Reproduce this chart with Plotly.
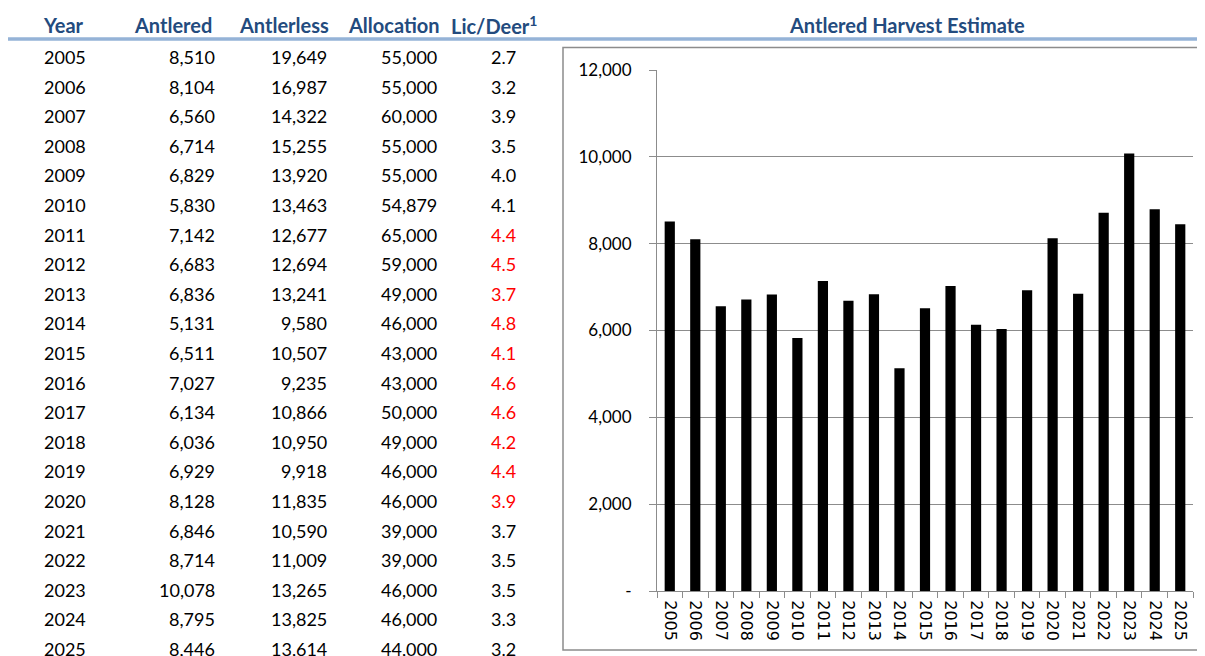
import plotly.graph_objects as go

years = [2005, 2006, 2007, 2008, 2009, 2010, 2011, 2012, 2013, 2014, 2015,
         2016, 2017, 2018, 2019, 2020, 2021, 2022, 2023, 2024, 2025]
antlered = [8510, 8104, 6560, 6714, 6829, 5830, 7142, 6683, 6836, 5131, 6511,
            7027, 6134, 6036, 6929, 8128, 6846, 8714, 10078, 8795, 8446]
antlerless = [19649, 16987, 14322, 15255, 13920, 13463, 12677, 12694, 13241, 9580, 10507,
              9235, 10866, 10950, 9918, 11835, 10590, 11009, 13265, 13825, 13614]
allocation = [55000, 55000, 60000, 55000, 55000, 54879, 65000, 59000, 49000, 46000, 43000,
              43000, 50000, 49000, 46000, 46000, 39000, 39000, 46000, 46000, 44000]
lic_deer = [2.7, 3.2, 3.9, 3.5, 4.0, 4.1, 4.4, 4.5, 3.7, 4.8, 4.1,
            4.6, 4.6, 4.2, 4.4, 3.9, 3.7, 3.5, 3.5, 3.3, 3.2]
headers = ["Year", "Antlered", "Antlerless", "Allocation", "Lic/Deer<sup>1</sup>"]
y_tickvals = [0, 2000, 4000, 6000, 8000, 10000, 12000]
y_ticktext = ["-", "2,000", "4,000", "6,000", "8,000", "10,000", "12,000"]
chart_title = "Antlered Harvest Estimate"

# page body has an 8px margin; lay the figure out in window pixels minus that offset
OFF = 8
W, H = 1205 - OFF, 656 - OFF
def px(x):
    return (x - OFF) / W
def py(y):
    return 1 - (y - OFF) / H

FONT = "Lato"
HEAD_COLOR = "#234B7E"
GRAY = "#8C8C8C"

fig = go.Figure()
fig.add_trace(go.Bar(
    x=[str(y) for y in years], y=antlered,
    marker=dict(color="#000000", line=dict(width=0)),
    width=0.4, showlegend=False,
))

annotations = []
head_pos = [(41, "left"), (214, "right"), (331, "right"), (442, "right"), (539, "right")]
for text, (x, anc) in zip(headers, head_pos):
    annotations.append(dict(
        x=px(x), y=py(25), xref="paper", yref="paper", text="<b>" + text + "</b>",
        showarrow=False, xanchor=anc, yanchor="middle",
        font=dict(family=FONT, size=20, color=HEAD_COLOR)))
annotations.append(dict(
    x=px(907), y=py(25), xref="paper", yref="paper", text="<b>" + chart_title + "</b>",
    showarrow=False, xanchor="center", yanchor="middle",
    font=dict(family=FONT, size=20, color=HEAD_COLOR)))

row0, step = 57, 29.6
for i, yr in enumerate(years):
    yy = py(row0 + i * step)
    red = 2011 <= yr <= 2020
    cells = [
        (str(yr), 42, "left", "#000000"),
        (f"{antlered[i]:,}", 217, "right", "#000000"),
        (f"{antlerless[i]:,}", 329, "right", "#000000"),
        (f"{allocation[i]:,}", 439, "right", "#000000"),
        (f"{lic_deer[i]:.1f}", 518, "right", "#FF0000" if red else "#000000"),
    ]
    for text, x, anc, col in cells:
        annotations.append(dict(
            x=px(x), y=yy, xref="paper", yref="paper", text=text,
            showarrow=False, xanchor=anc, yanchor="middle",
            font=dict(family=FONT, size=18, color=col)))

shapes = [
    dict(type="line", xref="paper", yref="paper", x0=px(6), x1=1.01, y0=py(39), y1=py(39),
         line=dict(color="#95B3D7", width=3.5)),
    dict(type="rect", xref="paper", yref="paper", x0=px(563), x1=px(1208), y0=py(650), y1=py(47.5),
         line=dict(color=GRAY, width=1.5), fillcolor="rgba(0,0,0,0)", layer="below"),
]

fig.update_layout(
    template="none",
    width=W, height=H,
    autosize=False,
    margin=dict(l=0, r=0, t=0, b=0, pad=0, autoexpand=False),
    paper_bgcolor="white", plot_bgcolor="white",
    annotations=annotations, shapes=shapes,
    showlegend=False,
    xaxis=dict(
        domain=[px(657), px(1193)], type="category", automargin=False,
        showline=True, linecolor=GRAY, linewidth=1,
        ticks="outside", tickson="boundaries", ticklen=6, tickcolor=GRAY,
        tickangle=90, tickfont=dict(family="DejaVu Sans", size=16, color="#000000"),
        ticklabelstandoff=5,
        showgrid=False, zeroline=False,
    ),
    yaxis=dict(
        domain=[py(591), py(69.6)], range=[0, 12010], automargin=False,
        tickvals=y_tickvals, ticktext=y_ticktext,
        showline=True, linecolor=GRAY, linewidth=1,
        ticks="outside", ticklen=7, tickcolor=GRAY,
        showgrid=True, gridcolor=GRAY, gridwidth=1,
        zeroline=False,
        tickfont=dict(family=FONT, size=17, color="#000000"),
        ticklabelstandoff=14,
    ),
)

fig.write_html("out.html", config={"responsive": False})
